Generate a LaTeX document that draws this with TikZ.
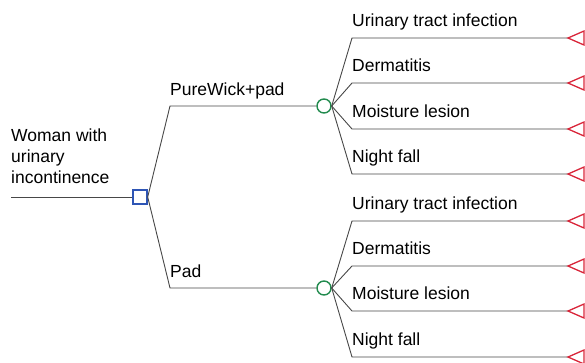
\documentclass[tikz,border=0pt]{standalone}
\usepackage{fontspec}
\setmainfont{Liberation Sans}
\definecolor{decblue}{HTML}{2E55B5}
\definecolor{chgreen}{HTML}{228B4E}
\definecolor{termred}{HTML}{D9263A}
\begin{document}
\begin{tikzpicture}[x=1pt,y=-1pt,
  edge/.style={draw=black!72, line width=0.9pt},
  decision/.style={draw=decblue, line width=1.4pt, fill=white, minimum size=14pt, inner sep=0pt, rectangle},
  chance/.style={draw=chgreen, line width=1.4pt, fill=white, circle, minimum size=14pt, inner sep=0pt},
  term/.style={draw=termred, line width=1.3pt},
  lbl/.style={anchor=base west, inner sep=0pt, font=\fontsize{17.5}{21}\selectfont}]
\useasboundingbox (0,0) rectangle (585,362);
% root
\coordinate (r0) at (11,197);
\node[decision] (d) at (140,197) {};
\draw[edge] (r0) -- (d.west);
\node[anchor=north west, inner sep=0pt, align=left, font=\fontsize{17.5}{21}\selectfont] (root) at (11,129) {Woman with\\urinary\\incontinence};
% branches
\coordinate (a1) at (170,106);
\coordinate (a2) at (170,288);
\node[chance] (c1) at (324,106) {};
\node[chance] (c2) at (324,288) {};
\draw[edge] (d.east) -- (a1) -- (c1.west);
\draw[edge] (d.east) -- (a2) -- (c2.west);
\node[lbl] (l1) at (170,95) {PureWick+pad};
\node[lbl] (l2) at (170,277) {Pad};
% outcomes
\foreach \c/\n/\y in {c1/1/38,c1/2/83,c1/3/129,c1/4/174,c2/5/221,c2/6/266,c2/7/311,c2/8/357}{
  \coordinate (b\n) at (352,\y);
  \coordinate (t\n) at (568,\y);
  \draw[edge] (\c.east) -- (b\n) -- (t\n);
  \draw[term] (t\n) -- ++(16,-7) -- ++(0,14) -- cycle;
}
\node[lbl] (o1) at (352,26) {Urinary tract infection};
\node[lbl] (o2) at (352,71) {Dermatitis};
\node[lbl] (o3) at (352,117) {Moisture lesion};
\node[lbl] (o4) at (352,162) {Night fall};
\node[lbl] (o5) at (352,209) {Urinary tract infection};
\node[lbl] (o6) at (352,254) {Dermatitis};
\node[lbl] (o7) at (352,299) {Moisture lesion};
\node[lbl] (o8) at (352,345) {Night fall};
\end{tikzpicture}
\end{document}
